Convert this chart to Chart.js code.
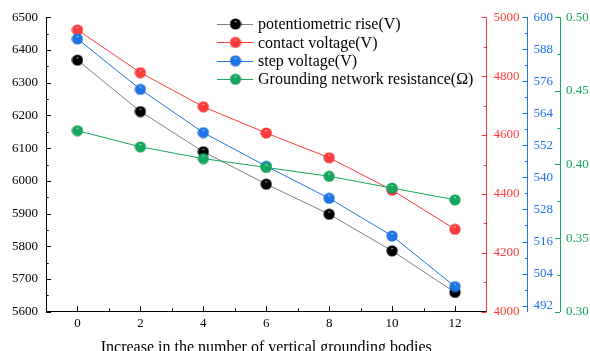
<!DOCTYPE html>
<html>
<head>
<meta charset="utf-8">
<script src="https://cdn.jsdelivr.net/npm/chart.js@4"></script>
<style>
  html, body { margin: 0; padding: 0; background: #fff; }
  #wrap { width: 590px; height: 351px; }
</style>
</head>
<body>
<div id="wrap"><canvas id="chart"></canvas></div>
<script>
const xValues = [0, 2, 4, 6, 8, 10, 12];
const potentialRise = [6369, 6212, 6089, 5990, 5898, 5786, 5659];
const contactVoltage = [4957, 4812, 4696, 4607, 4523, 4413, 4280];
const stepVoltage = [591.9, 573.0, 556.8, 544.2, 532.2, 518.1, 499.1];
const groundResistance = [0.423, 0.412, 0.404, 0.398, 0.392, 0.384, 0.376];

const xMajor = [0, 2, 4, 6, 8, 10, 12];
const leftMajor = [5600, 5700, 5800, 5900, 6000, 6100, 6200, 6300, 6400, 6500];
const redMajor = [4000, 4200, 4400, 4600, 4800, 5000];
const blueMajor = [492, 504, 516, 528, 540, 552, 564, 576, 588, 600];
const greenMajor = [0.30, 0.35, 0.40, 0.45, 0.50];

const seriesNames = ['potentiometric rise(V)', 'contact voltage(V)', 'step voltage(V)', 'Grounding network resistance(\u03A9)'];

const FONT = "'Liberation Serif', 'Times New Roman', serif";
const RED = '#ff3b3b', BLUE = '#1f74e6', GREEN = '#14a85c';

// majors plus the midpoints between them
function withMinor(major) {
  const out = [];
  major.forEach((v, i) => {
    out.push({ value: v, major: true });
    if (i < major.length - 1) out.push({ value: +((v + major[i + 1]) / 2).toFixed(4), major: false });
  });
  return out;
}

function sphere(color) {
  const c = document.createElement('canvas');
  c.width = 12; c.height = 12;
  const g = c.getContext('2d');
  const grad = g.createRadialGradient(6, 3.2, 0, 6, 6, 6.5);
  grad.addColorStop(0, '#ffffff');
  grad.addColorStop(0.18, color);
  grad.addColorStop(0.75, color);
  grad.addColorStop(1, color === '#000000' ? '#000' : shade(color));
  g.fillStyle = grad;
  g.beginPath();
  g.arc(6, 6, 5.6, 0, Math.PI * 2);
  g.fill();
  return c;
}
function shade(hex) {
  const n = parseInt(hex.slice(1), 16);
  const f = (v) => Math.round(v * 0.75);
  return 'rgb(' + f(n >> 16) + ',' + f((n >> 8) & 255) + ',' + f(n & 255) + ')';
}

const markers = [sphere('#000000'), sphere(RED), sphere(BLUE), sphere(GREEN)];
const lineColors = ['#808080', RED, BLUE, GREEN];

function pts(arr) { return arr.map((v, i) => ({ x: xValues[i], y: v })); }

function yAxis(position, min, max, major, color, width, weight, fmt, pad) {
  const ticks = withMinor(major);
  return {
    type: 'linear', position, min, max, weight,
    grid: { display: false, drawTicks: false },
    border: { display: true, color, width: 1 },
    afterBuildTicks: (s) => { s.ticks = ticks.map((t) => ({ value: t.value })); },
    afterFit: (s) => { s.width = width; },
    ticks: {
      autoSkip: false, padding: pad, color,
      font: { family: FONT, size: 13 },
      callback: (v) => (ticks.find((t) => Math.abs(t.value - v) < 1e-6 && t.major) ? fmt(v) : ''),
    },
  };
}

const tickMarks = {
  id: 'tickMarks',
  afterDraw(chart) {
    const ctx = chart.ctx;
    ctx.save();
    ctx.lineWidth = 1;
    Object.values(chart.scales).forEach((s) => {
      ctx.strokeStyle = s.options.border.color;
      s.ticks.forEach((t) => {
        const major = t.label !== '' && t.label !== undefined;
        const len = major ? 5 : 2.7;
        const p = Math.round(s.getPixelForValue(t.value)) + 0.5;
        ctx.beginPath();
        if (s.axis === 'x') {
          ctx.moveTo(p, s.top); ctx.lineTo(p, s.top - len - 0.7);
        } else if (s.position === 'left') {
          ctx.moveTo(s.right, p); ctx.lineTo(s.right + len, p);
        } else {
          ctx.moveTo(s.left, p); ctx.lineTo(s.left - len, p);
        }
        ctx.stroke();
      });
    });
    ctx.restore();
  },
};

const legendBox = {
  id: 'legendBox',
  afterDraw(chart) {
    const ctx = chart.ctx;
    ctx.save();
    ctx.font = '16px ' + FONT;
    ctx.textBaseline = 'middle';
    ctx.fillStyle = '#000';
    seriesNames.forEach((name, i) => {
      const y = 24 + i * 18.4;
      ctx.strokeStyle = lineColors[i];
      ctx.lineWidth = 1;
      ctx.beginPath();
      ctx.moveTo(217, Math.round(y) + 0.5);
      ctx.lineTo(253, Math.round(y) + 0.5);
      ctx.stroke();
      ctx.drawImage(markers[i], 235.5 - 6, y - 6);
      ctx.fillText(name, 258, y + 1);
    });
    ctx.restore();
  },
};

function ds(i, data, axis, order) {
  return {
    label: seriesNames[i], data: pts(data), yAxisID: axis, order,
    borderColor: lineColors[i], borderWidth: 1,
    pointStyle: markers[i], pointRadius: 6, pointHoverRadius: 6,
    tension: 0,
  };
}

new Chart(document.getElementById('chart'), {
  type: 'line',
  data: {
    datasets: [
      ds(0, potentialRise, 'yLeft', 4),
      ds(1, contactVoltage, 'yRed', 3),
      ds(2, stepVoltage, 'yBlue', 2),
      ds(3, groundResistance, 'yGreen', 1),
    ],
  },
  options: {
    responsive: true,
    maintainAspectRatio: false,
    animation: false,
    layout: { padding: { top: 17.3, left: 0, right: 0, bottom: 0 } },
    plugins: { legend: { display: false }, tooltip: { enabled: false } },
    scales: {
      x: {
        type: 'linear', min: -1, max: 13,
        grid: { display: false, drawTicks: false },
        border: { display: true, color: '#000', width: 1 },
        afterBuildTicks: (s) => {
          const t = [];
          for (let v = 0; v <= 12; v++) t.push({ value: v });
          s.ticks = t;
        },
        afterFit: (s) => { s.height = 39.3; },
        ticks: {
          autoSkip: false, padding: 4, color: '#000', maxRotation: 0,
          font: { family: FONT, size: 13 },
          callback: (v) => (xMajor.includes(v) ? String(v) : ''),
        },
        title: {
          display: true, text: 'Increase in the number of vertical grounding bodies',
          color: '#000', font: { family: FONT, size: 16, lineHeight: 1 },
          padding: { top: 0, bottom: -5 },
        },
      },
      yLeft: yAxis('left', 5600, 6500, leftMajor, '#000', 46, 0, (v) => String(v), 8),
      yRed: yAxis('right', 4000, 5000, redMajor, RED, 41, 0, (v) => String(v), 7),
      yBlue: yAxis('right', 489.7, 600, blueMajor, BLUE, 32.5, 1, (v) => String(v), 6),
      yGreen: yAxis('right', 0.30, 0.50, greenMajor, GREEN, 30, 2, (v) => v.toFixed(2), 6),
    },
  },
  plugins: [tickMarks, legendBox],
});
</script>
</body>
</html>
